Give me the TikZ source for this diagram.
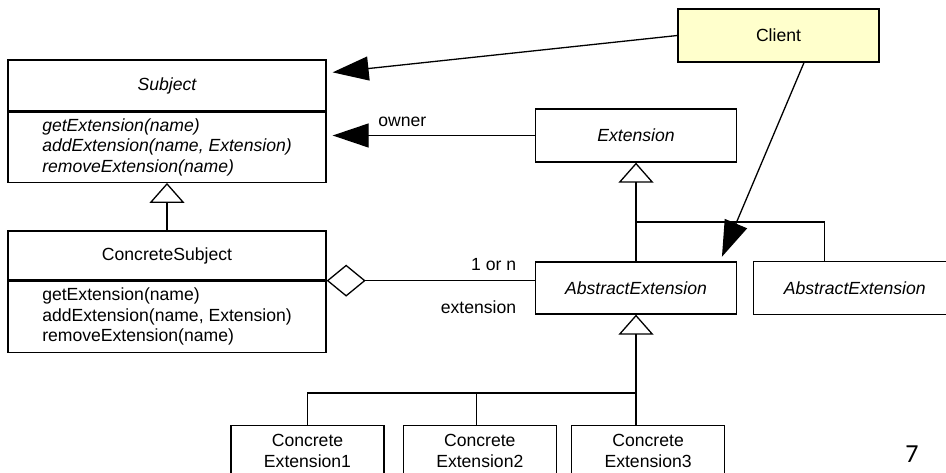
\documentclass[tikz,border=0pt]{standalone}
\usepackage{fontspec}
\setmainfont{Liberation Sans}
\newfontfamily\slidefont{Carlito}
\usetikzlibrary{arrows.meta,positioning}
\definecolor{clientyellow}{RGB}{255,255,204}

\begin{document}
\begin{tikzpicture}[x=1pt,y=-1pt,line width=1.3pt,
    font=\fontsize{17.6}{20.5}\selectfont,
    cls/.style={draw,minimum width=201pt,minimum height=53pt,inner sep=0pt},
    abst/.style={font=\fontsize{17.6}{20.5}\selectfont\itshape},
    ops/.style={draw,align=left,inner sep=0pt,minimum width=318pt},
    conc/.style={draw,align=center,anchor=north,minimum width=153pt,inner xsep=0pt,inner ysep=9pt,text depth=8pt},
    lbl/.style={inner sep=0pt},
    inherit/.style={-{Triangle[open,length=20pt,width=35pt]}},
    uses/.style={-{Triangle[length=36pt,width=24pt]},shorten >=6pt},
    aggr/.style={{Diamond[open,length=39pt,width=32pt]}-}]
    \useasboundingbox (0,0) rectangle (946,473);

    \node[cls,abst,minimum width=318pt,minimum height=51pt] (subject) at (167,85.5) {Subject};
    \node[ops,abst,minimum height=70pt,below=0pt of subject] (subjectops)
      {getExtension(name)\\addExtension(name, Extension)\\removeExtension(name)};
    \node[cls,minimum width=318pt,minimum height=49pt] (concsubject) at (167,255.5) {ConcreteSubject};
    \node[ops,minimum height=71pt,below=0pt of concsubject] (concops)
      {getExtension(name)\\addExtension(name, Extension)\\removeExtension(name)};

    \node[cls,fill=clientyellow] (client) at (778.5,35.5) {Client};
    \node[cls,abst] (extension) at (636,135.5) {Extension};
    \node[cls,abst,minimum height=52pt] (abstract1) at (636,288) {AbstractExtension};
    \node[cls,abst,minimum width=202pt,right=16pt of abstract1] (abstract2) {AbstractExtension};

    \node[conc] (ce1) at (307.5,425) {Concrete\\Extension1};
    \node[conc,right=18pt of ce1] (ce2) {Concrete\\Extension2};
    \node[conc,right=14pt of ce2] (ce3) {Concrete\\Extension3};

    \node[font=\slidefont\fontsize{26}{30}\selectfont] (pagenum) at (912,454) {7};

    \coordinate (extjoin) at (636,222);
    \coordinate (cejoin) at (636,393);

    \draw[uses] (client.west) -- ([yshift=12.5pt]subject.east);
    \draw[uses] (extension.west) -- (extension.west -| subjectops.east)
      node[lbl,pos=0.637,above=8pt] {owner};
    \draw[uses,shorten >=5pt] ([xshift=25.5pt]client.south) -- ([xshift=84pt]abstract1.north);

    \draw[inherit] (concsubject.north) -- (subjectops.south);
    \draw[inherit] (abstract1.north) -- (extension.south);
    \draw ([xshift=-30.5pt]abstract2.north) |- (extjoin);

    \draw[aggr] (concops.north east) -- (concops.north east -| abstract1.west)
      node[lbl,pos=1,anchor=south east,xshift=-18pt,yshift=9.5pt] {1 or n}
      node[lbl,pos=1,anchor=north east,xshift=-18pt,yshift=-19pt] {extension};

    \draw[inherit] (ce3.north -| abstract1.south) -- (abstract1.south);
    \draw (ce1.north) |- (cejoin);
    \draw ([xshift=-3pt]ce2.north) -- ([xshift=-3pt]ce2.north |- cejoin);
  \end{tikzpicture}
\end{document}
